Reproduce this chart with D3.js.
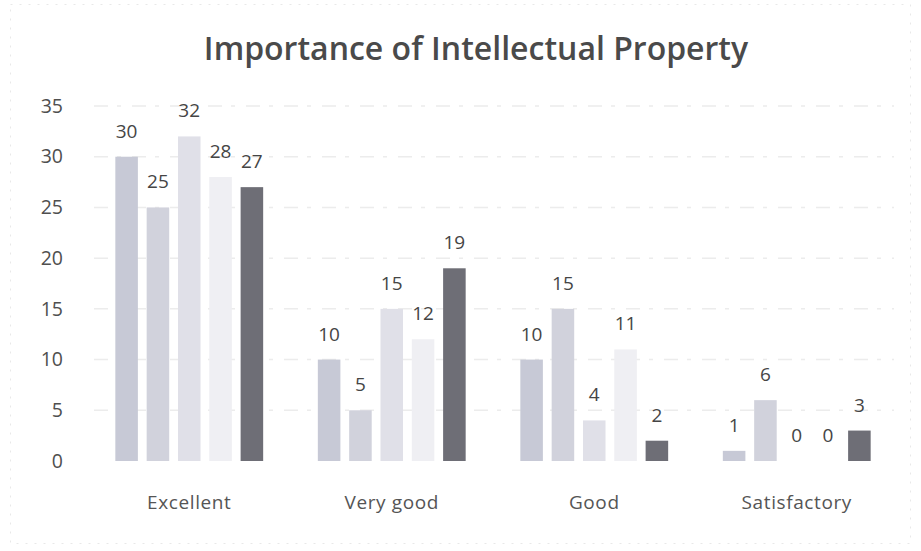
<!DOCTYPE html>
<html>
<head>
<meta charset="utf-8">
<script src="https://cdn.jsdelivr.net/npm/d3@7"></script>
<style>
  body { margin: 0; background: #fff; }
  svg { display: block; }
</style>
</head>
<body>
<script>
// chart data
var categories = ["Excellent", "Very good", "Good", "Satisfactory"];
var seriesNames = ["S1", "S2", "S3", "S4", "S5"];
var seriesValues = [
    [30, 10, 10, 1],
    [25, 5, 15, 6],
    [32, 15, 4, 0],
    [28, 12, 11, 0],
    [27, 19, 2, 3]
];
var yTicks = [0, 5, 10, 15, 20, 25, 30, 35];
var seriesColors = ["#c7c9d6", "#d1d2dc", "#e0e0e8", "#efeff3", "#6e6e76"];
var title = "Importance of Intellectual Property";

var width = 921, height = 551;
var margin = {top: 106, right: 23, bottom: 90, left: 88};

var svg = d3.select("body").append("svg")
    .attr("width", width)
    .attr("height", height);

// faint outer frame from the scanned sheet
svg.append("rect")
    .attr("x", 10.5).attr("y", 4.5)
    .attr("width", width - 21).attr("height", height - 12)
    .style("fill", "none")
    .style("stroke", "#e8e8e8")
    .style("stroke-dasharray", "2,7");

var content = svg.append("g")
    .attr("transform", "translate(" + margin.left + "," + margin.top + ")");

var innerW = width - margin.left - margin.right;
var innerH = 461 - margin.top;

var xScale = d3.scaleBand().domain(categories).range([0, innerW]).paddingInner(0.27).paddingOuter(0.135);
var xSub = d3.scaleBand().domain(seriesNames).range([0, xScale.bandwidth()]).paddingInner(0.28);
var yScale = d3.scaleLinear().domain([0, 35]).range([innerH, 0]);

// gridlines
content.append("g")
    .selectAll("line")
    .data(yTicks.slice(1))
    .enter().append("line")
    .attr("x1", 6).attr("x2", innerW - 4)
    .attr("y1", function(d) { return yScale(d); })
    .attr("y2", function(d) { return yScale(d); })
    .style("stroke", "#ececec")
    .style("stroke-width", 1.5)
    .style("stroke-dasharray", "14,9,4,11");

// y axis
var yAxis = content.append("g")
    .call(d3.axisLeft(yScale).tickValues(yTicks).tickSize(0).tickPadding(25));
yAxis.select(".domain").remove();
yAxis.selectAll("text")
    .style("font-family", "'Open Sans', sans-serif")
    .style("font-size", "19.5px")
    .style("fill", "#4f4f4f");

// x axis
var xAxis = content.append("g")
    .attr("transform", "translate(0," + innerH + ")")
    .call(d3.axisBottom(xScale).tickSize(0).tickPadding(35));
xAxis.select(".domain").remove();
xAxis.selectAll("text")
    .style("font-family", "'Open Sans', sans-serif")
    .style("font-size", "19px")
    .style("letter-spacing", "0.6px")
    .style("fill", "#555");

// bars
var groups = content.selectAll(".grp")
    .data(categories)
    .enter().append("g")
    .attr("class", "grp")
    .attr("transform", function(d) { return "translate(" + xScale(d) + ",0)"; });

function cells(c, ci) {
    return seriesNames.map(function(s, si) { return {s: s, si: si, v: seriesValues[si][ci]}; });
}

groups.selectAll("rect")
    .data(cells)
    .enter().append("rect")
    .attr("x", function(d) { return xSub(d.s); })
    .attr("width", xSub.bandwidth())
    .attr("y", function(d) { return yScale(d.v); })
    .attr("height", function(d) { return innerH - yScale(d.v); })
    .style("fill", function(d) { return seriesColors[d.si]; });

groups.selectAll("text")
    .data(cells)
    .enter().append("text")
    .attr("x", function(d) { return xSub(d.s) + xSub.bandwidth() / 2; })
    .attr("y", function(d) { return yScale(d.v) - 19; })
    .attr("text-anchor", "middle")
    .style("font-family", "'Open Sans', sans-serif")
    .style("font-size", "19px")
    .style("fill", "#454545")
    .text(function(d) { return d.v; });

// title
svg.append("text")
    .attr("x", 476)
    .attr("y", 60)
    .attr("text-anchor", "middle")
    .style("font-family", "'Open Sans', sans-serif")
    .style("font-size", "32px")
    .style("font-weight", "600")
    .style("fill", "#4a4a4a")
    .text(title);
</script>
</body>
</html>
